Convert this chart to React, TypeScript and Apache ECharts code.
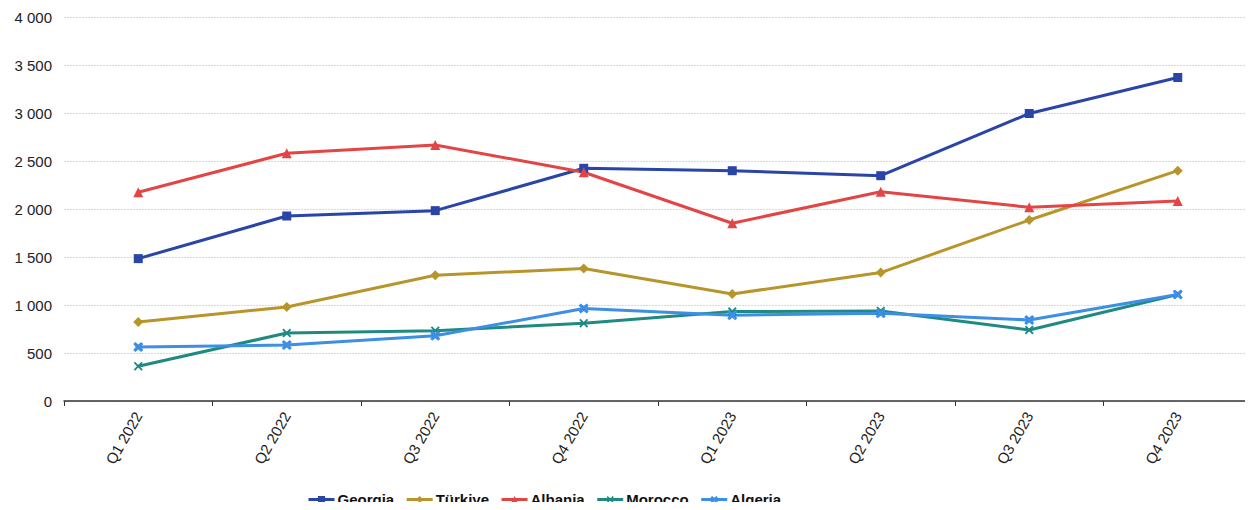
import React, { useEffect, useRef } from "react";
import * as echarts from "echarts";

const quarters = ["Q1 2022", "Q2 2022", "Q3 2022", "Q4 2022", "Q1 2023", "Q2 2023", "Q3 2023", "Q4 2023"];

const georgia = [1483, 1927, 1983, 2424, 2399, 2347, 2995, 3370];
const turkiye = [823, 979, 1310, 1380, 1115, 1338, 1885, 2399];
const albania = [2175, 2580, 2667, 2383, 1852, 2180, 2018, 2083];
const morocco = [362, 708, 732, 810, 932, 938, 740, 1110];
const algeria = [563, 583, 680, 963, 893, 914, 844, 1110];

const yTicks = [0, 500, 1000, 1500, 2000, 2500, 3000, 3500, 4000];

const colors = {
  georgia: "#2a45a8",
  turkiye: "#b8952a",
  albania: "#e34545",
  morocco: "#1f8a82",
  algeria: "#3c8fe4",
};

const FONT = "'Liberation Sans', Arial, sans-serif";

// Thin diagonal cross and a chunkier star-cross for the two lower series
const xSymbol = "path://M0,1.5 L1.5,0 L5,3.5 L8.5,0 L10,1.5 L6.5,5 L10,8.5 L8.5,10 L5,6.5 L1.5,10 L0,8.5 L3.5,5 Z";
const starSymbol =
  "path://M0,2 L2,0 L5,2.5 L8,0 L10,2 L7.5,5 L10,8 L8,10 L5,7.5 L2,10 L0,8 L2.5,5 Z M3,3 L7,3 L7,7 L3,7 Z";

const fmt = (v: number) => String(v).replace(/\B(?=(\d{3})+(?!\d))/g, " ");

export default function App() {
  const ref = useRef<HTMLDivElement>(null);

  useEffect(() => {
    if (!ref.current) return;
    const chart = echarts.init(ref.current, undefined, { renderer: "svg" });

    const mk = (name: string, data: number[], color: string, symbol: string, size: number) => ({
      name,
      type: "line",
      data,
      color,
      symbol,
      symbolSize: size,
      showSymbol: true,
      lineStyle: { width: 3, color },
      itemStyle: { color },
      emphasis: { disabled: true },
    });

    chart.setOption({
      animation: false,
      textStyle: { fontFamily: FONT },
      grid: { left: 64, right: 1, top: 17, bottom: 109, containLabel: false },
      legend: {
        left: 302,
        top: 487,
        itemWidth: 26,
        itemHeight: 9,
        itemGap: 11,
        lineStyle: { width: 3 },
        textStyle: { fontSize: 15, fontWeight: "bold", color: "#111", fontFamily: FONT, padding: [0, 0, 0, -2] },
        data: ["Georgia", "Türkiye", "Albania", "Morocco", "Algeria"],
      },
      xAxis: {
        type: "category",
        data: quarters,
        boundaryGap: true,
        axisLine: { lineStyle: { color: "#333", width: 1.5 } },
        axisTick: { show: true, length: 5, lineStyle: { color: "#333" } },
        axisLabel: {
          rotate: 60,
          fontSize: 15,
          color: "#222",
          margin: 12,
          fontFamily: FONT,
        },
      },
      yAxis: {
        type: "value",
        min: yTicks[0],
        max: yTicks[yTicks.length - 1],
        interval: 500,
        axisLine: { show: false },
        axisTick: { show: false },
        splitLine: { lineStyle: { color: "#d9d9d9", width: 1, type: [2, 1] } },
        axisLabel: {
          fontSize: 15,
          color: "#222",
          margin: 12,
          formatter: (v: number) => fmt(v),
          fontFamily: FONT,
        },
      },
      series: [
        mk("Georgia", georgia, colors.georgia, "rect", 9),
        mk("Türkiye", turkiye, colors.turkiye, "diamond", 10),
        mk("Albania", albania, colors.albania, "triangle", 10),
        mk("Morocco", morocco, colors.morocco, xSymbol, 9),
        mk("Algeria", algeria, colors.algeria, starSymbol, 10),
      ],
    });

    return () => chart.dispose();
  }, []);

  return <div ref={ref} style={{ width: 1253, height: 510, margin: -8 }} />;
}
